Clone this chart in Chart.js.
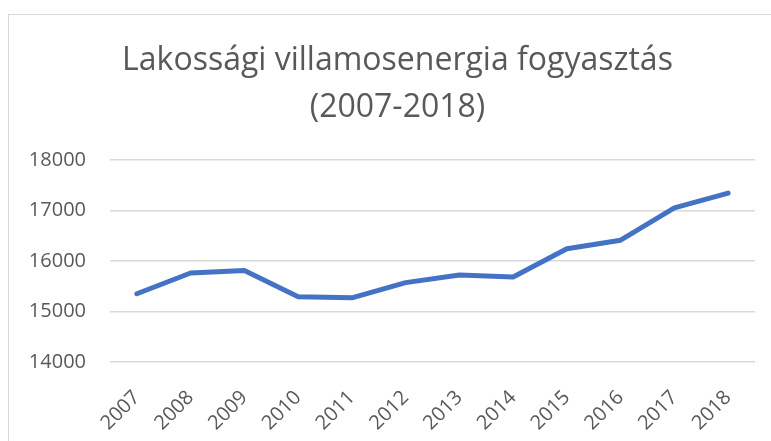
<!DOCTYPE html>
<html>
<head>
<meta charset="utf-8">
<script src="https://cdn.jsdelivr.net/npm/chart.js@4/dist/chart.umd.min.js"></script>
<style>
  html, body { margin: 0; padding: 0; background: #fff; overflow: hidden; }
  #wrap { position: relative; width: 771px; height: 441px; }
  #frame {
    position: absolute; left: 8px; top: 14px; width: 800px; height: 500px;
    border: 1.5px solid #d9d9d9; box-sizing: border-box;
  }
  canvas { position: absolute; left: 0; top: 0; }
</style>
</head>
<body>
<div id="wrap">
  <div id="frame"></div>
  <canvas id="chart" width="771" height="441"></canvas>
</div>
<script>
const years = ["2007", "2008", "2009", "2010", "2011", "2012", "2013", "2014", "2015", "2016", "2017", "2018"];
const consumption = [15350, 15760, 15810, 15290, 15270, 15570, 15720, 15680, 16240, 16410, 17050, 17340];
const titleLines = ["Lakossági villamosenergia fogyasztás", "(2007-2018)"];
const yMin = 14000;
const yMax = 18000;
const yStep = 1000;

const textColor = "#595959";
const gridColor = "#d9d9d9";

// the title sits a bit right of the canvas centre, like in Excel
const titleShift = {
  id: "titleShift",
  afterLayout(chart) {
    const t = chart.titleBlock;
    if (t) {
      t.left += 20;
      t.right += 20;
    }
  }
};

const ctx = document.getElementById("chart").getContext("2d");

new Chart(ctx, {
  type: "line",
  data: {
    labels: years,
    datasets: [
      {
        label: "Fogyasztás",
        data: consumption,
        borderColor: "#4472c4",
        borderWidth: 5,
        borderCapStyle: "round",
        borderJoinStyle: "round",
        pointRadius: 0,
        tension: 0,
        fill: false
      }
    ]
  },
  options: {
    responsive: false,
    animation: false,
    layout: {
      padding: { left: 0, right: 16, top: 0, bottom: 0 }
    },
    plugins: {
      legend: { display: false },
      tooltip: { enabled: false },
      title: {
        display: true,
        text: titleLines,
        color: textColor,
        font: { family: "'Open Sans', sans-serif", size: 32, weight: "normal", lineHeight: 1.45 },
        padding: { top: 38, bottom: 29 }
      }
    },
    scales: {
      x: {
        offset: true,
        grid: { display: false },
        border: { display: false },
        ticks: {
          color: textColor,
          font: { family: "'Open Sans', sans-serif", size: 20 },
          minRotation: 45,
          maxRotation: 45,
          padding: 16,
          autoSkip: false
        },
        afterFit: scale => { scale.height = 79; }
      },
      y: {
        min: yMin,
        max: yMax,
        grid: { color: gridColor, lineWidth: 1.5, drawTicks: false },
        border: { display: false },
        ticks: {
          stepSize: yStep,
          color: textColor,
          font: { family: "'Open Sans', sans-serif", size: 20 },
          padding: 24,
          callback: value => String(value)
        },
        afterFit: scale => { scale.width = 110; }
      }
    }
  },
  plugins: [titleShift]
});
</script>
</body>
</html>
